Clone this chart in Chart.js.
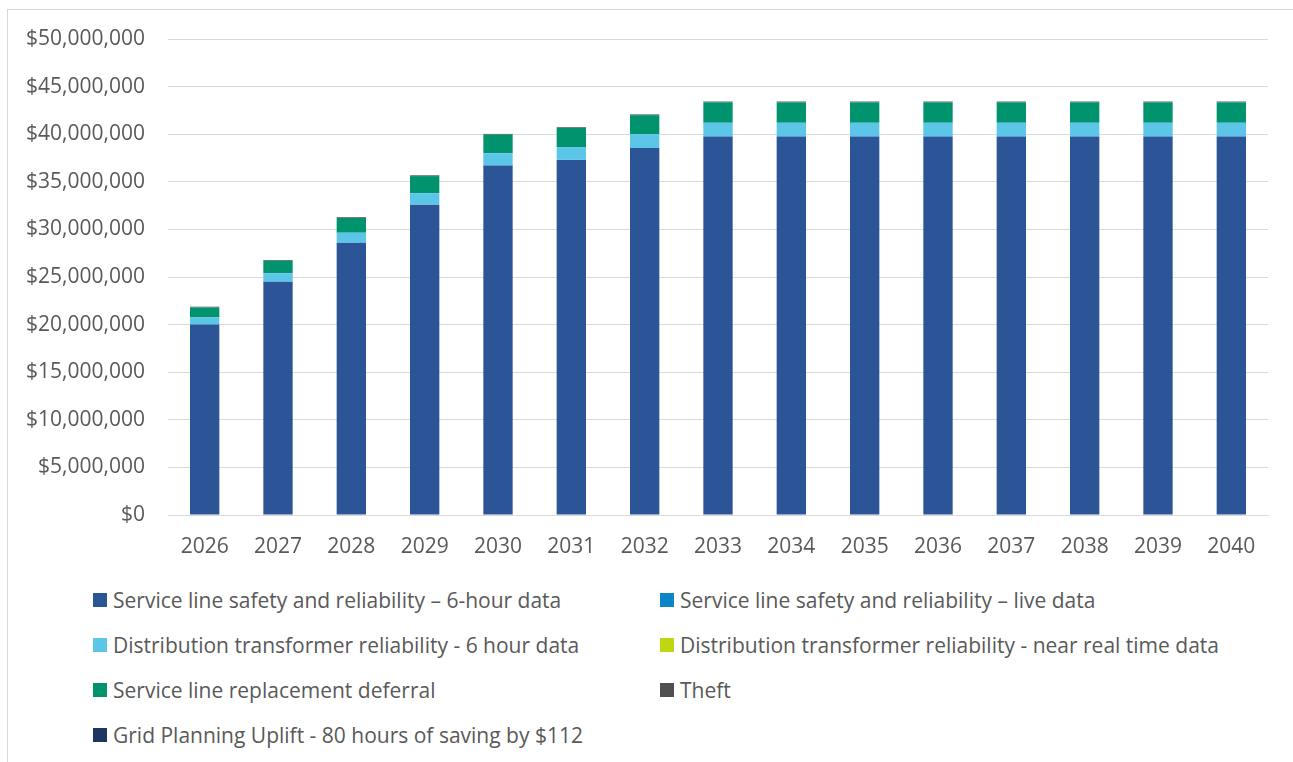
<!DOCTYPE html>
<html>
<head>
<meta charset="utf-8">
<script src="https://cdn.jsdelivr.net/npm/chart.js@4"></script>
<style>
    html, body { margin: 0; padding: 0; background: #fff; overflow: hidden; }
    body { width: 1293px; height: 762px; position: relative; font-family: "Open Sans", sans-serif; }
    .frame { position: absolute; left: 7px; top: 9px; width: 1320px; height: 800px; border: 1px solid #d9d9d9; box-sizing: border-box; }
    .chart-box { position: absolute; left: 0; top: 0; width: 1293px; height: 570px; }
    #legend { position: absolute; left: 93px; top: 577px; display: grid; grid-template-columns: 567px 600px; grid-auto-rows: 45px; }
    .item { display: flex; align-items: center; font-size: 21px; color: #595959; white-space: nowrap; height: 45px; }
    .swatch { width: 14px; height: 14px; margin-right: 6px; flex: none; }
</style>
</head>
<body>
<div class="frame"></div>
<div class="chart-box"><canvas id="benefitChart"></canvas></div>
<div id="legend"></div>
<script>
const years = ['2026', '2027', '2028', '2029', '2030', '2031', '2032', '2033', '2034', '2035', '2036', '2037', '2038', '2039', '2040'];

const serviceLine6Hour = [20000000, 24500000, 28600000, 32600000, 36700000, 37300000, 38550000, 39750000, 39750000, 39750000, 39750000, 39750000, 39750000, 39750000, 39750000];
const serviceLineLive = [0, 0, 0, 0, 0, 0, 0, 0, 0, 0, 0, 0, 0, 0, 0];
const transformer6Hour = [750000, 900000, 1050000, 1200000, 1300000, 1350000, 1450000, 1450000, 1450000, 1450000, 1450000, 1450000, 1450000, 1450000, 1450000];
const transformerNearRealTime = [0, 0, 0, 0, 0, 0, 0, 0, 0, 0, 0, 0, 0, 0, 0];
const replacementDeferral = [1050000, 1300000, 1550000, 1800000, 1950000, 2000000, 2000000, 2150000, 2150000, 2150000, 2150000, 2150000, 2150000, 2150000, 2150000];
const theft = [80000, 80000, 80000, 80000, 80000, 80000, 80000, 80000, 80000, 80000, 80000, 80000, 80000, 80000, 80000];
const gridPlanning = [0, 0, 0, 0, 0, 0, 0, 0, 0, 0, 0, 0, 0, 0, 0];

const seriesLabels = [
    'Service line safety and reliability \u2013 6-hour data',
    'Service line safety and reliability \u2013 live data',
    'Distribution transformer reliability - 6 hour data',
    'Distribution transformer reliability - near real time data',
    'Service line replacement deferral',
    'Theft',
    'Grid Planning Uplift - 80 hours of saving by $112'
];
const seriesColors = ['#2c5597', '#0b84c8', '#5bc6e8', '#bed70e', '#00936e', '#505050', '#1d3660'];
const seriesData = [serviceLine6Hour, serviceLineLive, transformer6Hour, transformerNearRealTime, replacementDeferral, theft, gridPlanning];

function buildLegend(chart) {
    const legend = document.getElementById('legend');
    legend.innerHTML = '';
    chart.data.datasets.forEach(ds => {
        const item = document.createElement('div');
        item.className = 'item';
        const box = document.createElement('span');
        box.className = 'swatch';
        box.style.background = ds.backgroundColor;
        const text = document.createElement('span');
        text.textContent = ds.label;
        item.appendChild(box);
        item.appendChild(text);
        legend.appendChild(item);
    });
}

try {
    const ctx = document.getElementById('benefitChart').getContext('2d');
    const chart = new Chart(ctx, {
        type: 'bar',
        data: {
            labels: years,
            datasets: seriesData.map((values, i) => ({
                label: seriesLabels[i],
                data: values,
                backgroundColor: seriesColors[i],
                barPercentage: 0.4,
                categoryPercentage: 1.0
            }))
        },
        options: {
            responsive: true,
            maintainAspectRatio: false,
            animation: false,
            layout: { padding: { top: 39, right: 25, left: 0, bottom: 0 } },
            scales: {
                x: {
                    stacked: true,
                    grid: { display: false, drawTicks: false },
                    border: { color: '#d9d9d9' },
                    ticks: { color: '#595959', font: { family: 'Open Sans', size: 21 }, padding: 19 },
                    afterFit: scale => { scale.height = 55; }
                },
                y: {
                    stacked: true,
                    min: 0,
                    max: 50000000,
                    grid: { color: '#d9d9d9', drawTicks: false },
                    border: { display: false },
                    ticks: {
                        stepSize: 5000000,
                        color: '#595959',
                        font: { family: 'Open Sans', size: 21 },
                        padding: 23,
                        callback: v => '$' + v.toLocaleString('en-US')
                    },
                    afterFit: scale => { scale.width = 168; }
                }
            },
            plugins: {
                legend: { display: false },
                tooltip: { enabled: false }
            }
        }
    });
    buildLegend(chart);
} catch (error) {
    console.error('Error rendering chart:', error);
}
</script>
</body>
</html>
